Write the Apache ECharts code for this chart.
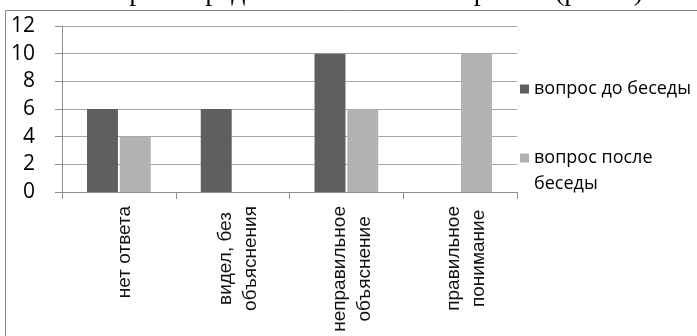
<!DOCTYPE html>
<html>
<head>
<meta charset="utf-8">
<script src="https://cdn.jsdelivr.net/npm/echarts@6/dist/echarts.min.js"></script>
<style>
  html, body { margin: 0; padding: 0; background: #fff; }
  #chart { width: 697px; height: 336px; }
</style>
</head>
<body>
<div id="chart"></div>
<script>
// Survey answers, before and after the talk
const categories = ['нет ответа', 'видел, без\nобъяснения', 'неправильное\nобъяснение', 'правильное\nпонимание'];
const seriesNames = ['вопрос до беседы', 'вопрос после беседы'];
const beforeTalk = [6, 6, 10, 0];
const afterTalk = [4, 0, 6, 10];
const yTicks = { min: 0, max: 12, step: 2 };
const caption = 'льтаты опроса представлены на гистограмме (рис. 6).';

const gridGray = '#a6a6a6';
const axisGray = '#8e8e8e';

const chart = echarts.init(document.getElementById('chart'), null, { renderer: 'canvas' });

chart.setOption({
  animation: false,
  backgroundColor: '#fff',
  graphic: [
    {
      type: 'text',
      silent: true,
      style: {
        text: caption,
        x: 650,
        y: 7,
        align: 'right',
        verticalAlign: 'bottom',
        font: '28px "Liberation Serif", "Times New Roman", serif',
        fill: '#000'
      }
    },
    {
      type: 'rect',
      silent: true,
      shape: { x: 5.5, y: 10.5, width: 900, height: 600 },
      style: { fill: 'none', stroke: '#8a8a8a', lineWidth: 1 }
    }
  ],
  grid: { left: 62, right: 180, top: 26, bottom: 144, containLabel: false },
  legend: [
    {
      data: [seriesNames[0]],
      left: 515,
      top: 71,
      orient: 'vertical',
      icon: 'rect',
      itemWidth: 9,
      itemHeight: 9,
      selectedMode: false,
      textStyle: { fontFamily: 'Open Sans', fontSize: 18, color: '#000', lineHeight: 26 }
    },
    {
      data: [seriesNames[1]],
      left: 515,
      top: 114,
      orient: 'vertical',
      icon: 'rect',
      itemWidth: 9,
      itemHeight: 9,
      selectedMode: false,
      // empty leading line keeps the marker level with the first text line
      formatter: name => '\n' + name.replace(' беседы', '\nбеседы'),
      textStyle: { fontFamily: 'Open Sans', fontSize: 18, color: '#000', lineHeight: 26 }
    }
  ],
  xAxis: {
    type: 'category',
    data: categories,
    boundaryGap: true,
    axisLine: { show: true, lineStyle: { color: axisGray, width: 1 } },
    axisTick: { show: true, alignWithLabel: false, length: 7, lineStyle: { color: axisGray } },
    axisLabel: {
      interval: 0,
      rotate: 90,
      margin: 14,
      padding: [12, 0, 0, 0],
      formatter: v => v.split('\n').map(s => '{c|' + s + '}').join('\n'),
      rich: {
        c: {
          align: 'center',
          fontFamily: '"Liberation Sans", Arial, sans-serif',
          fontSize: 19,
          lineHeight: 25,
          color: '#111'
        }
      }
    }
  },
  yAxis: {
    type: 'value',
    min: yTicks.min,
    max: yTicks.max,
    interval: yTicks.step,
    axisLine: { show: true, lineStyle: { color: axisGray, width: 1 } },
    axisTick: { show: true, length: 7, lineStyle: { color: axisGray } },
    axisLabel: { margin: 27, fontFamily: 'Open Sans', fontSize: 21, color: '#000' },
    splitLine: { show: true, lineStyle: { color: gridGray, width: 1 } }
  },
  series: [
    {
      name: seriesNames[0],
      type: 'bar',
      data: beforeTalk,
      barGap: '6%',
      barCategoryGap: '44%',
      itemStyle: { color: '#5f5f5f' }
    },
    {
      name: seriesNames[1],
      type: 'bar',
      data: afterTalk,
      barGap: '6%',
      barCategoryGap: '44%',
      itemStyle: { color: '#b2b2b2' }
    }
  ]
});
</script>
</body>
</html>
